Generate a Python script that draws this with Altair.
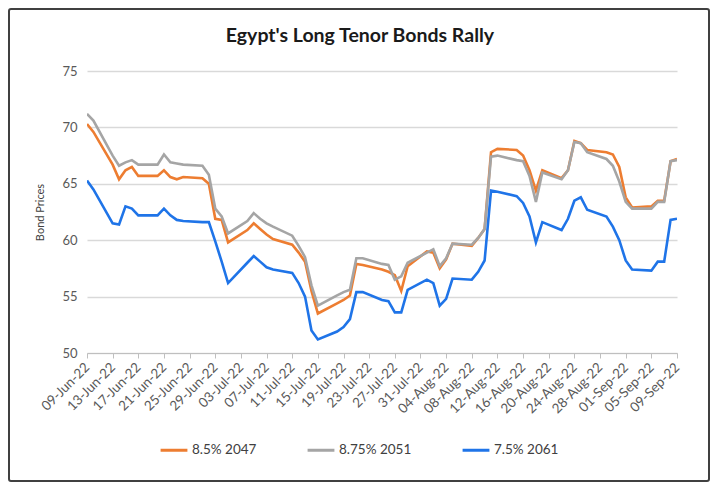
import altair as alt
import pandas as pd

# trading days, 09-Jun-22 .. 09-Sep-22
dates = [
    "2022-06-09", "2022-06-10", "2022-06-13", "2022-06-14", "2022-06-15", "2022-06-16",
    "2022-06-17", "2022-06-20", "2022-06-21", "2022-06-22", "2022-06-23", "2022-06-24",
    "2022-06-27", "2022-06-28", "2022-06-29", "2022-06-30",
    "2022-07-01", "2022-07-04", "2022-07-05", "2022-07-06", "2022-07-07", "2022-07-08",
    "2022-07-11", "2022-07-12", "2022-07-13", "2022-07-14", "2022-07-15", "2022-07-18",
    "2022-07-19", "2022-07-20", "2022-07-21", "2022-07-22", "2022-07-25", "2022-07-26",
    "2022-07-27", "2022-07-28", "2022-07-29",
    "2022-08-01", "2022-08-02", "2022-08-03", "2022-08-04", "2022-08-05", "2022-08-08",
    "2022-08-09", "2022-08-10", "2022-08-11", "2022-08-12", "2022-08-15", "2022-08-16",
    "2022-08-17", "2022-08-18", "2022-08-19", "2022-08-22", "2022-08-23", "2022-08-24",
    "2022-08-25", "2022-08-26", "2022-08-29", "2022-08-30", "2022-08-31",
    "2022-09-01", "2022-09-02", "2022-09-05", "2022-09-06", "2022-09-07", "2022-09-08",
    "2022-09-09",
]

bond_2047 = [
    70.3, 69.6, 66.7, 65.4, 66.2, 66.5, 65.7, 65.7, 66.2, 65.6, 65.4, 65.6, 65.5, 65.0, 61.9, 61.8,
    59.8, 60.9, 61.5, 61.0, 60.5, 60.1, 59.6, 58.9, 58.1, 55.5, 53.5, 54.4, 54.7, 55.1, 57.9, 57.8,
    57.4, 57.2, 56.9, 55.5, 57.7,
    59.0, 58.9, 57.5, 58.3, 59.7, 59.5, 60.2, 61.0, 67.8, 68.1, 68.0, 67.5, 66.2, 64.4, 66.2, 65.5,
    66.2, 68.8, 68.6, 68.0, 67.8, 67.6, 66.5,
    63.8, 62.9, 63.0, 63.5, 63.5, 67.0, 67.2,
]

bond_2051 = [
    71.2, 70.6, 67.5, 66.6, 66.9, 67.1, 66.7, 66.7, 67.6, 66.9, 66.8, 66.7, 66.6, 65.8, 62.8, 62.1,
    60.6, 61.7, 62.4, 61.9, 61.5, 61.2, 60.4, 59.5, 58.5, 56.0, 54.2, 55.1, 55.4, 55.6, 58.4, 58.4,
    57.9, 57.8, 56.5, 56.8, 58.0,
    58.9, 59.2, 57.7, 58.4, 59.7, 59.6, 60.2, 61.0, 67.4, 67.5, 67.1, 67.0, 65.7, 63.4, 66.0, 65.4,
    66.2, 68.7, 68.6, 67.8, 67.2, 66.6, 65.2,
    63.4, 62.8, 62.8, 63.4, 63.4, 67.0, 67.1,
]

bond_2061 = [
    65.3, 64.5, 61.5, 61.4, 63.0, 62.8, 62.2, 62.2, 62.8, 62.2, 61.8, 61.7, 61.6, 61.6, 59.9, 58.1,
    56.2, 58.0, 58.6, 58.1, 57.6, 57.4, 57.1, 56.2, 55.0, 52.0, 51.2, 51.9, 52.3, 53.0, 55.4, 55.4,
    54.7, 54.6, 53.6, 53.6, 55.6,
    56.5, 56.2, 54.2, 54.8, 56.6, 56.5, 57.2, 58.2, 64.4, 64.3, 63.9, 63.3, 62.1, 59.8, 61.6, 60.9,
    61.9, 63.5, 63.8, 62.7, 62.1, 61.2, 60.0,
    58.2, 57.4, 57.3, 58.1, 58.1, 61.8, 61.9,
]

series_names = ["8.5% 2047", "8.75% 2051", "7.5% 2061"]
series_colors = ["#ED7D31", "#A5A5A5", "#1F74E8"]
chart_title = "Egypt's Long Tenor Bonds Rally"

frames = []
for name, vals in zip(series_names, [bond_2047, bond_2051, bond_2061]):
    frames.append(pd.DataFrame({"date": dates, "price": vals, "bond": name}))
df = pd.concat(frames, ignore_index=True)

# x ticks every 4 days from the first date
tick_dates = pd.date_range("2022-06-09", "2022-09-09", freq="4D")
tick_values = [alt.DateTime(year=d.year, month=d.month, date=d.day, utc=True) for d in tick_dates]

FONT = "Lato"

lines = alt.Chart(df).mark_line(strokeWidth=2.6, clip=True).encode(
    x=alt.X(
        "date:T",
        scale=alt.Scale(
            type="utc",
            domain=[alt.DateTime(year=2022, month=6, date=9, utc=True),
                    alt.DateTime(year=2022, month=9, date=9, utc=True)],
            nice=False,
        ),
        axis=alt.Axis(
            values=tick_values, labelExpr="utcFormat(datum.value, '%d-%b-%y')",
            labelAngle=-45, labelAlign="right", labelBaseline="middle",
            labelFontSize=13.5, labelColor="#595959", labelPadding=7,
            grid=False, domainColor="#BFBFBF", tickColor="#BFBFBF", tickSize=5,
            labelOverlap=False, labelBound=False, title=None,
        ),
    ),
    y=alt.Y(
        "price:Q",
        scale=alt.Scale(domain=[50, 75], nice=False, zero=False),
        axis=alt.Axis(
            values=[50, 55, 60, 65, 70, 75], title="Bond Prices", titleFontSize=11,
            titleFontWeight="normal", titleColor="#404040", titlePadding=16,
            labelFontSize=13, labelColor="#595959", labelPadding=10,
            gridColor="#D9D9D9", gridWidth=1.5, domain=False, ticks=False,
        ),
    ),
    color=alt.Color(
        "bond:N",
        scale=alt.Scale(domain=series_names, range=series_colors),
        sort=series_names,
        legend=alt.Legend(
            title=None, orient="none", direction="horizontal",
            legendX=72, legendY=364, symbolType="stroke", symbolSize=720,
            symbolStrokeWidth=3, labelFontSize=13.5, labelColor="#404040",
            columnPadding=44, labelOffset=3,
        ),
    ),
)

title = alt.Chart(pd.DataFrame({"t": [chart_title]})).mark_text(
    font=FONT, fontSize=19.5, fontWeight="bold", color="#1A1A1A", align="center"
).encode(text="t:N", x=alt.value(273), y=alt.value(-35))

border = alt.Chart(pd.DataFrame({"k": [0]})).mark_rect(
    filled=False, stroke="#404040", strokeWidth=2, cornerRadius=2
).encode(
    x=alt.value(-78), x2=alt.value(622), y=alt.value(-62), y2=alt.value(410)
)

chart = alt.layer(lines, title, border).properties(
    width=590,
    height=282,
    autosize=alt.AutoSizeParams(type="none"),
    padding={"left": 79, "top": 63, "right": 33, "bottom": 129},
).configure(font=FONT).configure_view(stroke=None)

chart.save("out.html", embed_options={"renderer": "svg", "actions": False})
